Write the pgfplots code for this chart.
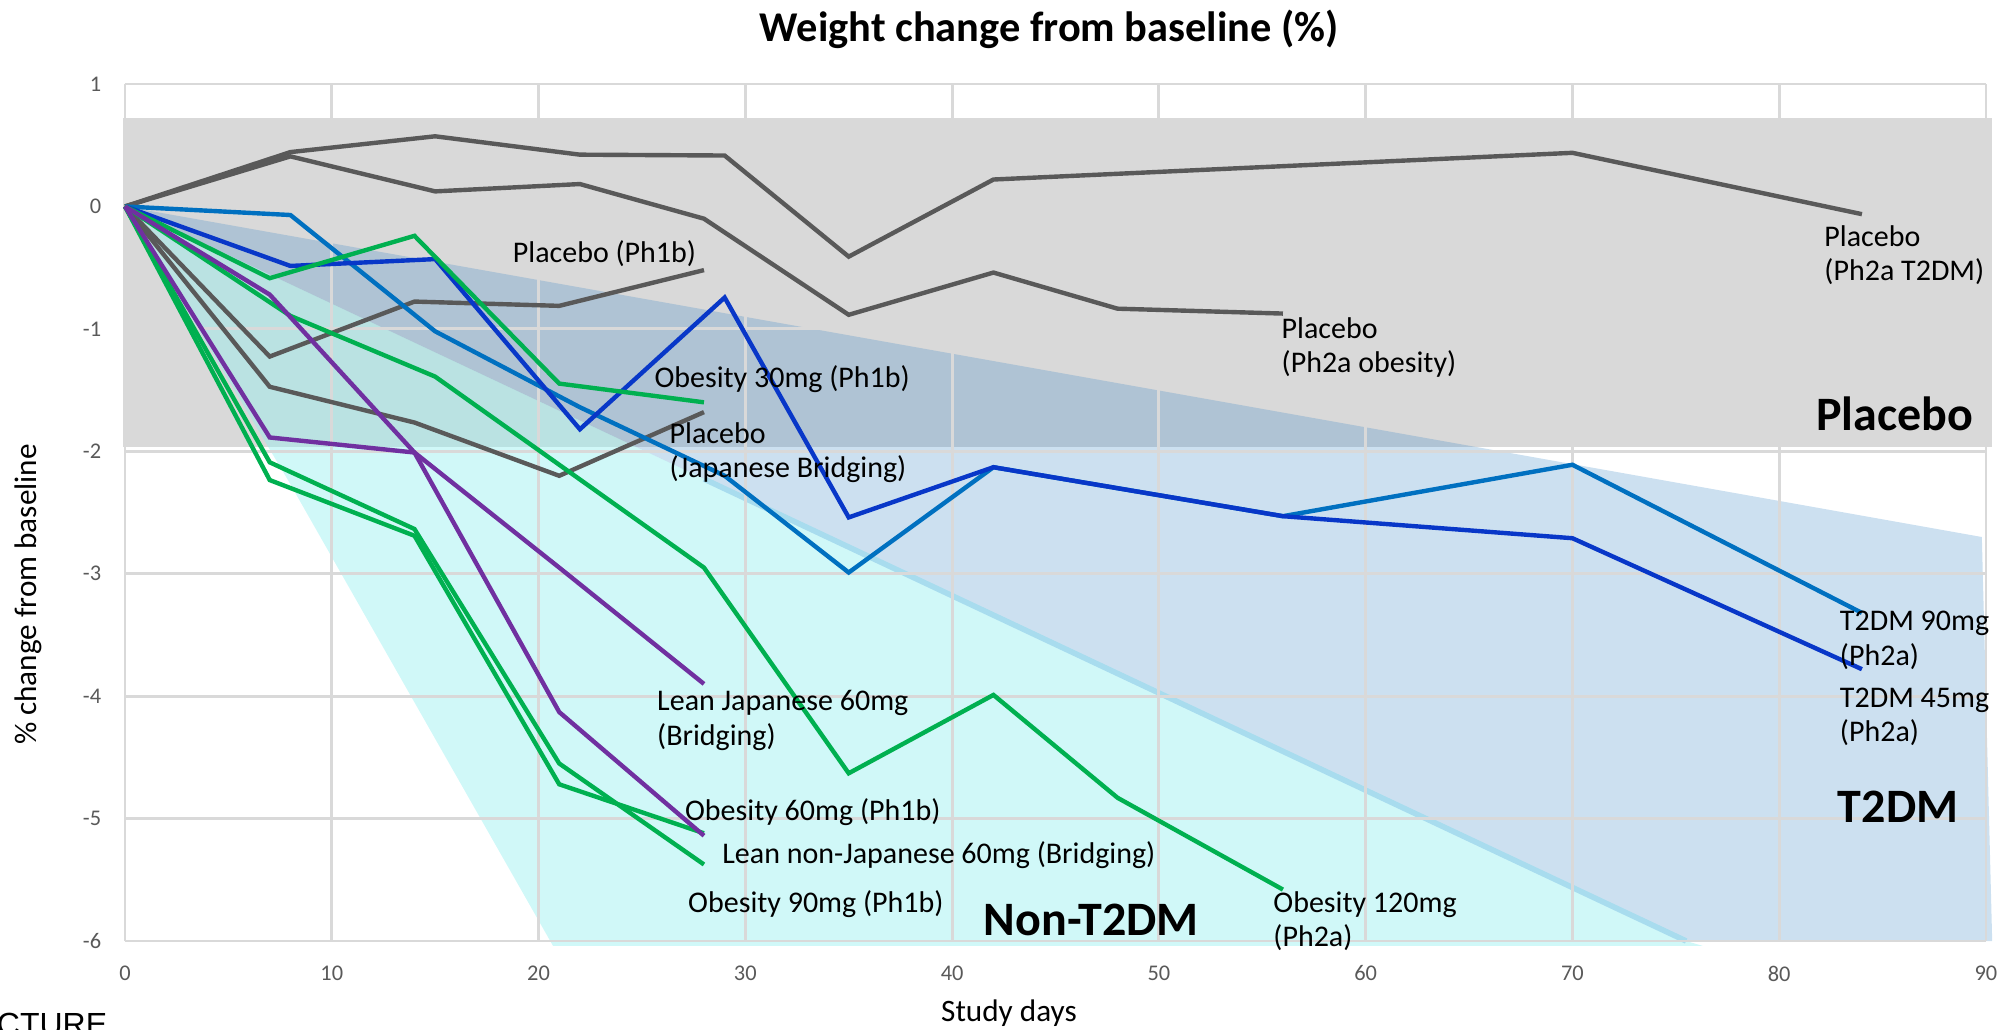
\documentclass[border=0pt]{standalone}
\usepackage{fontspec}
\setmainfont{Carlito}
\newfontfamily\arialfont{Liberation Sans}
\usepackage{pgfplots}
\pgfplotsset{compat=1.18}

\definecolor{plgray}{RGB}{89,89,89}
\definecolor{exgreen}{RGB}{0,176,80}
\definecolor{expurple}{RGB}{112,48,160}
\definecolor{darkblue}{RGB}{8,55,200}
\definecolor{midblue}{RGB}{0,112,192}
\definecolor{gridgray}{RGB}{217,217,217}
\definecolor{tickgray}{RGB}{89,89,89}
\definecolor{rectgray}{RGB}{199,199,199}
\definecolor{t2dmfill}{RGB}{52,132,196}
\definecolor{cyanfill}{RGB}{143,238,238}
\definecolor{edgeblue}{RGB}{168,220,238}

\newcommand{\lbl}{\fontsize{7.5}{8.6}\selectfont}
\newcommand{\grp}{\bfseries\fontsize{12}{14}\selectfont}

\begin{document}
\begin{tikzpicture}
\begin{axis}[
  at={(0pt,0pt)}, anchor=south west,
  width=465.25pt, height=214.25pt, scale only axis,
  xmin=0, xmax=90, ymin=-6, ymax=1,
  xtick={0,10,...,90}, ytick={-6,-5,...,1},
  xticklabels={0,10,20,30,40,50,60,70,80,90},
  yticklabels={-6,-5,-4,-3,-2,-1,0,1},
  axis line style={draw=none},
  major tick length=0pt,
  tick label style={font=\fontsize{5.6}{6.7}\selectfont, text=tickgray, inner sep=0pt},
  xticklabel style={anchor=north, yshift=-6pt},
  yticklabel style={anchor=east, xshift=-5.75pt},
  clip=false,
]
% shaded groups
\addplot[draw=none, fill=rectgray, fill opacity=0.68]
  coordinates {(-0.1,0.725) (90.3,0.725) (90.3,-1.963) (-0.1,-1.963)};
\addplot[draw=none, fill=t2dmfill, fill opacity=0.25]
  coordinates {(0,0) (89.8,-2.70) (90.3,-6.0) (75.5,-6.0)};
\addplot[draw=none, fill=cyanfill, fill opacity=0.42]
  coordinates {(0,0) (75.5,-6.0) (76.3,-6.04) (20.7,-6.04) (7.9,-2.24)};
\addplot[edgeblue, line width=1.4pt] coordinates {(28,-2.226) (75.5,-6.0)};

% grid over the shading, under the series
\pgfplotsinvokeforeach{0,10,20,30,40,50,60,70,80,90}{
  \draw[gridgray, line width=0.7pt] (axis cs:#1,-6) -- (axis cs:#1,1);}
\pgfplotsinvokeforeach{-6,-5,-4,-3,-2,-1,0,1}{
  \draw[gridgray, line width=0.7pt] (axis cs:0,#1) -- (axis cs:90,#1);}

% placebo
\addplot[plgray, line width=1.1pt] coordinates {
  (0,0) (8,0.444) (15,0.573) (22,0.423) (29,0.416) (35,-0.41) (42,0.22) (70,0.438) (84,-0.063)};
\addplot[plgray, line width=1.1pt] coordinates {
  (0,0) (8,0.409) (15,0.123) (22,0.183) (28,-0.10) (35,-0.885) (42,-0.54) (48,-0.835) (56,-0.875)};
\addplot[plgray, line width=1.1pt] coordinates {
  (0,0) (7,-1.226) (14,-0.777) (21,-0.812) (28,-0.52)};
\addplot[plgray, line width=1.1pt] coordinates {
  (0,0) (7,-1.473) (14,-1.765) (21,-2.20) (28,-1.68)};

% T2DM
\addplot[midblue, line width=1.1pt] coordinates {
  (0,0) (8,-0.07) (15,-1.02) (22,-1.64) (29,-2.2) (35,-2.99) (42,-2.13) (56,-2.53) (70,-2.11) (84,-3.32)};
\addplot[darkblue, line width=1.1pt] coordinates {
  (0,0) (8,-0.486) (15,-0.43) (22,-1.82) (29,-0.744) (35,-2.54) (42,-2.13) (56,-2.53) (70,-2.71) (84,-3.78)};

% non-T2DM
\addplot[exgreen, line width=1.1pt] coordinates {
  (0,0) (7,-0.586) (14,-0.24) (21,-1.447) (28,-1.60)};
\addplot[exgreen, line width=1.1pt] coordinates {
  (0,0) (8,-0.894) (15,-1.39) (22,-2.23) (28,-2.95) (35,-4.63) (42,-3.99) (48,-4.83) (56,-5.58)};
\addplot[exgreen, line width=1.1pt] coordinates {
  (0,0) (7,-2.09) (14,-2.635) (21,-4.55) (28,-5.375)};
\addplot[exgreen, line width=1.1pt] coordinates {
  (0,0) (7,-2.235) (14,-2.69) (21,-4.72) (28,-5.12)};
\addplot[expurple, line width=1.1pt] coordinates {
  (0,0) (7,-1.887) (14,-2.01) (21,-2.95) (28,-3.90)};
\addplot[expurple, line width=1.1pt] coordinates {
  (0,0) (7,-0.72) (14,-2.01) (21,-4.13) (28,-5.14)};

% labels
\begin{scope}[every node/.style={inner sep=0pt, align=left, font=\lbl, anchor=west}]
\node at (axis cs:18.72,-0.386) {Placebo (Ph1b)};
\node at (axis cs:82.15,-0.40) {Placebo\\(Ph2a T2DM)};
\node at (axis cs:55.9,-1.15) {Placebo\\(Ph2a obesity)};
\node at (axis cs:25.57,-1.41) {Obesity 30mg (Ph1b)};
\node at (axis cs:26.3,-2.01) {Placebo\\(Japanese Bridging)};
\node at (axis cs:82.9,-3.545) {T2DM 90mg\\(Ph2a)};
\node at (axis cs:82.9,-4.17) {T2DM 45mg\\(Ph2a)};
\node at (axis cs:25.7,-4.20) {Lean Japanese 60mg\\(Bridging)};
\node at (axis cs:27.05,-4.95) {Obesity 60mg (Ph1b)};
\node at (axis cs:28.85,-5.30) {Lean non-Japanese 60mg (Bridging)};
\node at (axis cs:27.2,-5.70) {Obesity 90mg (Ph1b)};
\node at (axis cs:55.5,-5.84) {Obesity 120mg\\(Ph2a)};
\end{scope}
\node[inner sep=0pt, font=\grp, anchor=east] at (axis cs:89.42,-1.69) {Placebo};
\node[inner sep=0pt, font=\grp, anchor=west] at (axis cs:82.8,-4.90) {T2DM};
\node[inner sep=0pt, font=\grp, anchor=west] at (axis cs:41.5,-5.83) {Non-T2DM};

% titles
\node[font=\bfseries\fontsize{10.6}{12.7}\selectfont] at (axis cs:44.7,1.449) {Weight change from baseline (\%)};
\node[font=\fontsize{7.8}{9.4}\selectfont] at (axis cs:42.75,-6.59) {Study days};
\node[font=\fontsize{7.8}{9.4}\selectfont, rotate=90] at (axis cs:-4.69,-3.17) {\% change from baseline};
\end{axis}
\node[font=\arialfont\fontsize{8}{9.6}\selectfont, anchor=base east, inner sep=0pt] at (-4.25pt,-23.7pt) {CTURE};
\pgfresetboundingbox
\path[use as bounding box] (-31.25pt,-22pt) rectangle (469.5pt,235.25pt);
\end{tikzpicture}
\end{document}
